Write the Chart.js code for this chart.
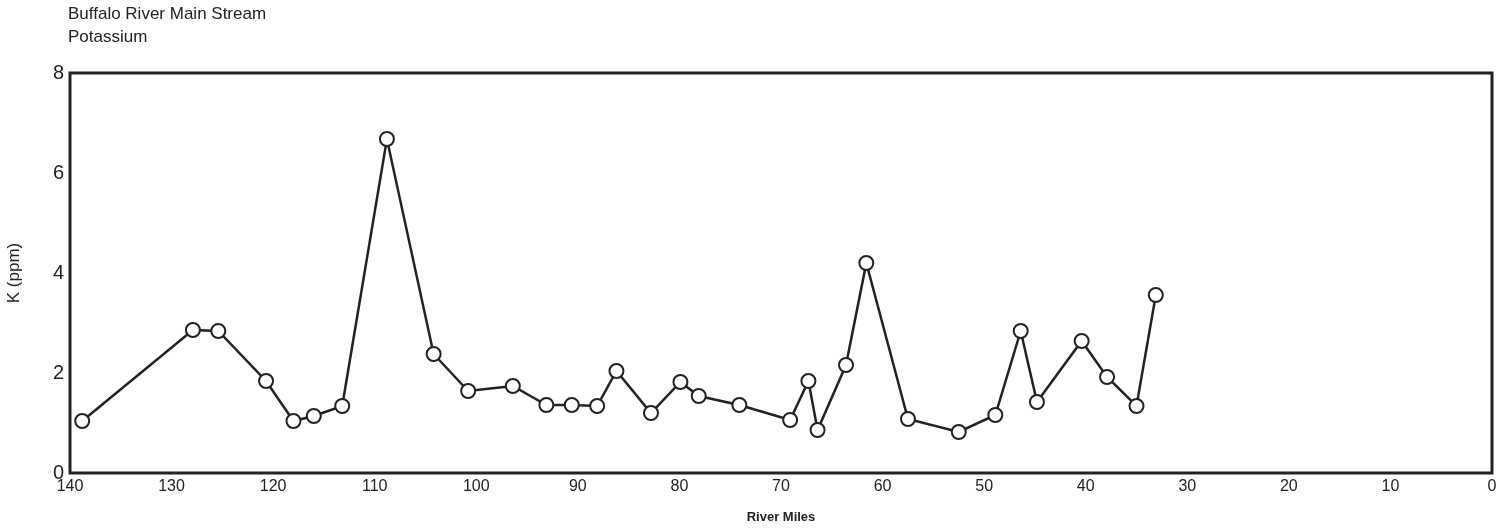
<!DOCTYPE html>
<html><head><meta charset="utf-8">
<script src="https://cdn.jsdelivr.net/npm/chart.js@4"></script>
<style>html,body{margin:0;background:#fff}#wrap{width:1501px;height:529px}</style>
</head><body><div id="wrap"><canvas id="c"></canvas></div>
<script>
// river miles (x) and potassium K ppm (y)
const riverMiles = [138.8,127.9,125.4,120.7,118.0,116.0,113.2,108.8,104.2,100.8,96.4,93.1,90.6,88.1,86.2,82.8,79.9,78.1,74.1,69.1,67.3,66.4,63.6,61.6,57.5,52.5,48.9,46.4,44.8,40.4,37.9,35.0,33.1];
const potassium = [1.04,2.86,2.84,1.84,1.04,1.14,1.34,6.68,2.38,1.64,1.74,1.36,1.36,1.34,2.04,1.2,1.82,1.54,1.36,1.06,1.84,0.86,2.16,4.2,1.08,0.82,1.16,2.84,1.42,2.64,1.92,1.34,3.56];
const titleLines = ['Buffalo River Main Stream', 'Potassium'];

const frame = {
  id: 'frame',
  afterDraw(chart) {
    const {ctx, chartArea: a} = chart;
    ctx.save();
    ctx.strokeStyle = '#222'; ctx.lineWidth = 3;
    ctx.strokeRect(a.left, a.top, a.right - a.left, a.bottom - a.top);
    ctx.fillStyle = '#222'; ctx.font = '17px "Liberation Sans", Arial';
    ctx.textBaseline = 'top';
    ctx.fillText(titleLines[0], 68, 6);
    ctx.fillText(titleLines[1], 68, 29);
    ctx.restore();
  }
};

new Chart(document.getElementById('c'), {
  type: 'line',
  data: {
    datasets: [{
      data: riverMiles.map((m, i) => ({x: m, y: potassium[i]})),
      borderColor: '#222', borderWidth: 2.5,
      pointRadius: 7, pointBorderWidth: 2,
      pointBackgroundColor: '#fff', pointBorderColor: '#222',
      tension: 0
    }]
  },
  options: {
    responsive: true, maintainAspectRatio: false, animation: false,
    layout: { padding: { top: 73, right: 8, left: 0, bottom: 0 } },
    plugins: { legend: { display: false }, tooltip: { enabled: false } },
    scales: {
      x: {
        type: 'linear', reverse: true, min: 0, max: 140,
        grid: { display: false, drawTicks: false }, border: { display: false },
        ticks: { stepSize: 10, color: '#222', padding: 4, font: { size: 16, family: 'Liberation Sans' } },
        title: { display: true, text: 'River Miles', color: '#222', padding: { top: 2 }, font: { size: 13, weight: 'bold', family: 'Liberation Sans' } },
        afterFit(s) { s.height = 56; }
      },
      y: {
        min: 0, max: 8,
        grid: { display: false, drawTicks: false }, border: { display: false },
        ticks: { stepSize: 2, color: '#222', padding: 6, font: { size: 20, family: 'Liberation Sans' } },
        title: { display: true, text: 'K (ppm)', color: '#222', font: { size: 17, family: 'Liberation Sans' } },
        afterFit(s) { s.width = 70; }
      }
    }
  },
  plugins: [frame]
});
</script></body></html>
